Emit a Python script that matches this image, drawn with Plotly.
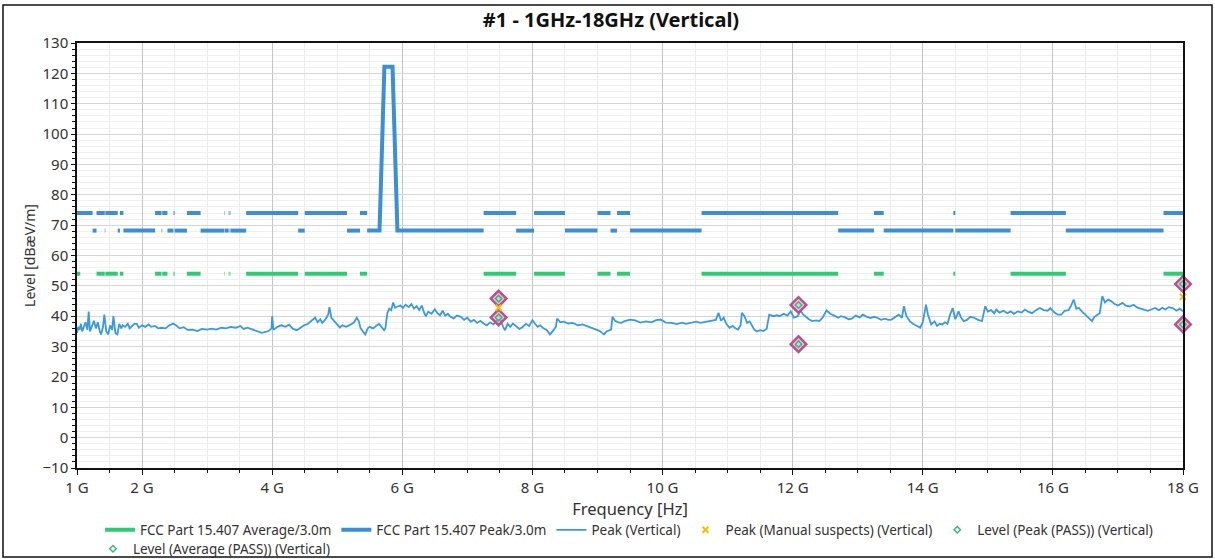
import plotly.graph_objects as go

TITLE = "#1 - 1GHz-18GHz (Vertical)"

# Restricted bands (GHz) where the 74 dBuV/m peak / 54 dBuV/m average limits apply
RESTRICTED_BANDS_GHZ = [
    (1.0, 1.24), (1.3, 1.427), (1.435, 1.626), (1.66, 1.71), (1.7188, 1.7222),
    (2.2, 2.3), (2.31, 2.39), (2.4835, 2.5), (2.69, 2.9), (3.26, 3.267),
    (3.332, 3.339), (3.3458, 3.358), (3.6, 4.4), (4.5, 5.15), (5.35, 5.46),
    (7.25, 7.75), (8.025, 8.5), (9.0, 9.2), (9.3, 9.5), (10.6, 12.7),
    (13.25, 13.4), (14.47, 14.5), (15.35, 16.2), (17.7, 18.0),
]
AVG_LIMIT_BANDS_GHZ = [(1.0, 1.05)] + RESTRICTED_BANDS_GHZ[1:]
PEAK_LIMIT_RESTRICTED = 74.0
PEAK_LIMIT_OTHER = 68.2
AVG_LIMIT = 54.0
BAND_EDGE_FREQ = [5.65, 5.725, 5.85, 5.925]
BAND_EDGE_LEVEL = [68.2, 122.2, 122.2, 68.2]

PEAK_FREQ = [
    1.00, 1.02, 1.04, 1.06, 1.08, 1.10, 1.13, 1.16, 1.18, 1.20, 1.23, 1.26, 1.29, 1.32, 1.35,
    1.37, 1.40, 1.42, 1.45, 1.48, 1.51, 1.54, 1.56, 1.59, 1.62, 1.65, 1.68, 1.70, 1.74, 1.78,
    1.81, 1.85, 1.88, 1.92, 1.95, 2.00, 2.05, 2.10, 2.14, 2.20, 2.25, 2.30, 2.36, 2.42, 2.48,
    2.52, 2.58, 2.64, 2.70, 2.78, 2.85, 2.92, 3.00, 3.07, 3.14, 3.22, 3.29, 3.36, 3.44, 3.51,
    3.56, 3.62, 3.67, 3.72, 3.78, 3.84, 3.90, 3.95, 3.99, 4.00, 4.02, 4.08, 4.14, 4.20, 4.26,
    4.32, 4.38, 4.44, 4.49, 4.55, 4.60, 4.66, 4.70, 4.74, 4.77, 4.82, 4.86, 4.88, 4.91, 4.95,
    5.00, 5.04, 5.08, 5.14, 5.21, 5.26, 5.30, 5.33, 5.36, 5.40, 5.43, 5.47, 5.50, 5.55, 5.60,
    5.64, 5.68, 5.72, 5.74, 5.77, 5.80, 5.83, 5.86, 5.89, 5.93, 5.97, 6.01, 6.05, 6.10, 6.14,
    6.18, 6.22, 6.26, 6.30, 6.33, 6.36, 6.40, 6.45, 6.50, 6.54, 6.58, 6.62, 6.66, 6.70, 6.74,
    6.79, 6.84, 6.90, 6.95, 7.00, 7.05, 7.10, 7.15, 7.20, 7.25, 7.30, 7.35, 7.40, 7.45, 7.51,
    7.55, 7.58, 7.62, 7.66, 7.70, 7.75, 7.80, 7.84, 7.90, 7.95, 8.00, 8.04, 8.08, 8.12, 8.17,
    8.22, 8.27, 8.31, 8.36, 8.38, 8.43, 8.48, 8.55, 8.62, 8.70, 8.77, 8.83, 8.88, 8.93, 8.98,
    9.03, 9.07, 9.10, 9.14, 9.18, 9.21, 9.23, 9.27, 9.32, 9.37, 9.42, 9.50, 9.58, 9.66, 9.75,
    9.83, 9.90, 9.97, 10.05, 10.14, 10.22, 10.30, 10.36, 10.45, 10.52, 10.58, 10.66, 10.75, 10.82, 10.86,
    10.90, 10.94, 10.98, 11.03, 11.08, 11.12, 11.16, 11.20, 11.22, 11.26, 11.30, 11.34, 11.38, 11.41, 11.45,
    11.50, 11.55, 11.60, 11.64, 11.70, 11.76, 11.80, 11.86, 11.92, 11.97, 12.02, 12.08, 12.12, 12.16, 12.19,
    12.25, 12.30, 12.36, 12.41, 12.46, 12.52, 12.58, 12.64, 12.70, 12.74, 12.80, 12.86, 12.91, 12.97, 13.03,
    13.08, 13.14, 13.20, 13.25, 13.30, 13.36, 13.42, 13.47, 13.52, 13.58, 13.63, 13.68, 13.71, 13.75, 13.80,
    13.85, 13.90, 13.96, 14.00, 14.05, 14.08, 14.13, 14.18, 14.22, 14.26, 14.30, 14.34, 14.38, 14.42, 14.46,
    14.50, 14.55, 14.59, 14.63, 14.68, 14.73, 14.79, 14.85, 14.91, 14.96, 15.00, 15.05, 15.10, 15.13, 15.18,
    15.24, 15.30, 15.35, 15.40, 15.46, 15.52, 15.57, 15.62, 15.68, 15.74, 15.80, 15.86, 15.92, 15.96, 16.02,
    16.08, 16.13, 16.18, 16.24, 16.28, 16.32, 16.36, 16.40, 16.45, 16.50, 16.55, 16.60, 16.64, 16.68, 16.72,
    16.76, 16.80, 16.85, 16.90, 16.95, 17.00, 17.07, 17.12, 17.18, 17.24, 17.30, 17.36, 17.40, 17.46, 17.52,
    17.57, 17.63, 17.68, 17.73, 17.78, 17.84, 17.90, 17.95, 18.00,
]
PEAK_LEVEL = [
    34.5, 36.5, 35.5, 37.5, 35.0, 36.0, 38.0, 35.5, 41.5, 35.0, 37.0, 38.5, 36.0, 38.0, 35.0,
    34.0, 36.5, 40.5, 35.0, 34.0, 37.0, 35.5, 40.0, 34.5, 34.0, 37.5, 36.0, 37.0, 36.5, 37.5,
    36.0, 36.8, 37.5, 37.5, 36.2, 37.0, 36.5, 37.3, 36.5, 36.8, 36.0, 36.2, 36.0, 37.0, 37.6,
    37.0, 36.0, 36.4, 35.5, 35.6, 35.1, 35.8, 35.6, 35.9, 35.6, 36.2, 36.0, 36.5, 36.2, 36.8,
    35.8, 36.2, 35.8, 35.3, 35.0, 34.5, 34.8, 35.2, 36.0, 40.0, 35.5, 36.5, 37.0, 36.5, 37.2,
    35.8, 35.4, 36.2, 37.0, 37.5, 38.5, 39.5, 38.0, 39.0, 37.8, 39.0, 40.5, 43.0, 39.5, 38.5,
    37.5, 36.3, 37.0, 36.5, 37.3, 38.0, 39.5, 38.5, 36.0, 35.0, 34.0, 36.0, 36.5, 36.0, 37.0,
    37.5, 36.5, 35.4, 36.0, 41.0, 42.5, 42.0, 44.5, 42.8, 43.2, 43.5, 42.7, 43.8, 43.0, 44.0,
    42.5, 43.3, 42.0, 43.5, 41.5, 40.0, 41.5, 40.8, 42.3, 41.0, 40.3, 41.8, 40.2, 40.8, 39.8,
    39.3, 40.2, 39.8, 38.8, 39.5, 38.2, 38.8, 37.8, 38.5, 37.6, 37.0, 38.0, 37.3, 38.5, 38.7,
    36.5, 35.4, 37.5, 36.5, 37.6, 36.8, 35.8, 36.3, 37.5, 36.8, 38.7, 37.5, 36.5, 37.0, 36.0,
    35.5, 34.0, 35.0, 36.5, 39.2, 38.0, 38.2, 37.6, 37.8, 37.0, 37.3, 36.8, 36.5, 36.0, 35.8,
    35.2, 34.5, 34.0, 35.0, 35.4, 35.6, 39.8, 38.5, 38.0, 37.8, 38.4, 38.9, 38.6, 37.9, 38.3,
    38.0, 38.7, 38.9, 37.9, 37.8, 37.4, 37.9, 37.5, 37.8, 38.2, 37.8, 38.2, 38.4, 38.8, 41.1,
    38.5, 39.5, 37.5, 36.2, 36.8, 36.0, 35.6, 37.0, 41.1, 40.0, 37.8, 38.3, 36.8, 35.6, 35.0,
    35.4, 35.1, 35.8, 40.5, 40.0, 40.3, 40.0, 40.8, 40.2, 41.6, 39.5, 40.0, 42.0, 40.6, 40.0,
    39.0, 38.4, 38.6, 38.4, 39.5, 41.9, 40.8, 40.2, 39.5, 40.0, 39.7, 39.0, 39.2, 40.2, 39.6,
    40.5, 39.8, 39.4, 39.8, 39.5, 38.8, 39.2, 38.8, 38.9, 39.7, 40.5, 39.5, 43.3, 40.0, 38.4,
    37.5, 37.0, 36.2, 38.0, 43.8, 40.5, 37.3, 38.3, 36.8, 37.5, 37.3, 38.0, 37.5, 40.5, 42.7,
    39.0, 41.6, 39.5, 38.4, 38.8, 39.8, 39.5, 38.8, 38.4, 43.3, 41.5, 42.0, 41.0, 42.2, 41.2,
    41.8, 41.0, 41.6, 40.8, 41.6, 41.2, 42.2, 41.5, 41.0, 42.0, 42.7, 42.0, 41.8, 42.7, 41.3,
    40.5, 40.5, 41.8, 42.0, 43.5, 45.5, 42.5, 42.7, 41.5, 40.5, 39.5, 38.4, 39.8, 40.5, 41.0,
    46.6, 44.5, 45.5, 44.9, 44.0, 43.5, 44.4, 43.5, 43.2, 43.8, 42.8, 42.5, 42.2, 41.8, 42.3,
    42.7, 42.0, 42.8, 42.2, 43.0, 42.7, 41.8, 42.5, 41.6,
]

SUSPECT_FREQ = [7.48, 18.0]
SUSPECT_LEVEL = [42.8, 46.4]
PASS_PEAK_FREQ = [7.48, 12.09, 18.0]
PASS_PEAK_LEVEL = [45.8, 43.7, 50.6]
PASS_AVG_FREQ = [7.48, 12.09, 18.0]
PASS_AVG_LEVEL = [39.6, 30.8, 37.3]

X_TICKS = [1, 2, 4, 6, 8, 10, 12, 14, 16, 18]
X_TICK_TEXT = ["1 G", "2 G", "4 G", "6 G", "8 G", "10 G", "12 G", "14 G", "16 G", "18 G"]
Y_TICKS = list(range(-10, 131, 10))

GREEN = "#2ecc71"
MARK_GREEN = "#3cb878"
BLUE = "#3a8fd6"
TRACE_BLUE = "#3a9ae0"
YELLOW = "#f2c200"
PINK = "#b8508f"
FONT = "Noto Sans"


def band_path(bands, level):
    xs, ys = [], []
    for a, b in bands:
        xs += [a, b, None]
        ys += [level, level, None]
    return xs, ys


# complement of restricted bands -> non-restricted segments at 68.2
other = []
start = 1.0
for a, b in sorted(RESTRICTED_BANDS_GHZ):
    if a > start:
        other.append((start, a))
    start = max(start, b)
if start < 18.0:
    other.append((start, 18.0))

pk_x, pk_y = band_path(RESTRICTED_BANDS_GHZ, PEAK_LIMIT_RESTRICTED)
for a, b in other:
    if a < BAND_EDGE_FREQ[0] < b:
        pk_x += [a] + BAND_EDGE_FREQ + [b, None]
        pk_y += [PEAK_LIMIT_OTHER] + BAND_EDGE_LEVEL + [PEAK_LIMIT_OTHER, None]
    else:
        pk_x += [a, b, None]
        pk_y += [PEAK_LIMIT_OTHER, PEAK_LIMIT_OTHER, None]

av_x, av_y = band_path(AVG_LIMIT_BANDS_GHZ, AVG_LIMIT)

fig = go.Figure()
fig.add_trace(go.Scatter(x=av_x, y=av_y, mode="lines", name="FCC Part 15.407 Average/3.0m",
                         line=dict(color=GREEN, width=4), connectgaps=False, legendrank=1))
fig.add_trace(go.Scatter(x=pk_x, y=pk_y, mode="lines", name="FCC Part 15.407 Peak/3.0m",
                         line=dict(color=BLUE, width=4), connectgaps=False, legendrank=2))
fig.add_trace(go.Scatter(x=PEAK_FREQ, y=PEAK_LEVEL, mode="lines", name="Peak (Vertical)",
                         line=dict(color=TRACE_BLUE, width=1.8), legendrank=3))
# highlight diamonds behind the result markers
fig.add_trace(go.Scatter(x=PASS_PEAK_FREQ + PASS_AVG_FREQ, y=PASS_PEAK_LEVEL + PASS_AVG_LEVEL,
                         mode="markers", showlegend=False, cliponaxis=False, hoverinfo="skip",
                         marker=dict(symbol="diamond", size=12, color="rgba(215,160,195,0.55)",
                                     line=dict(color=PINK, width=2.5))))
fig.add_trace(go.Scatter(x=SUSPECT_FREQ, y=SUSPECT_LEVEL, mode="markers",
                         name="Peak (Manual suspects) (Vertical)", cliponaxis=False,
                         marker=dict(symbol="x-thin-open", size=6, color=YELLOW,
                                     line=dict(color=YELLOW, width=2)),
                         legendrank=4))
fig.add_trace(go.Scatter(x=PASS_PEAK_FREQ, y=PASS_PEAK_LEVEL, mode="markers",
                         name="Level (Peak (PASS)) (Vertical)", cliponaxis=False,
                         marker=dict(symbol="diamond-open", size=5, color=MARK_GREEN,
                                     line=dict(color=MARK_GREEN, width=1.5)),
                         legendrank=5))
fig.add_trace(go.Scatter(x=PASS_AVG_FREQ, y=PASS_AVG_LEVEL, mode="markers",
                         name="Level (Average (PASS)) (Vertical)", cliponaxis=False,
                         marker=dict(symbol="diamond-open", size=5, color=MARK_GREEN,
                                     line=dict(color=MARK_GREEN, width=1.5)),
                         legend="legend2", legendrank=6))

minor_x = [1 + 0.5 * i for i in range(35)]
PW, PH, L0, T0 = 1106, 425, 77, 43

legend_common = dict(orientation="h", xanchor="left", yanchor="middle",
                     font=dict(family=FONT, size=13.5, color="#333333"), itemwidth=30,
                     bgcolor="rgba(0,0,0,0)", borderwidth=0)

fig.update_layout(
    width=1215, height=559,
    paper_bgcolor="white", plot_bgcolor="white",
    margin=dict(l=77, r=32, t=43, b=91, autoexpand=False),
    font=dict(family=FONT, size=13, color="#333333"),
    title=dict(text="<b>" + TITLE + "</b>", x=611 / 1215, xref="container", xanchor="center",
               y=1 - 20 / 559, yref="container", yanchor="middle",
               font=dict(family=FONT, size=20, color="#111111")),
    showlegend=True,
    legend=dict(x=(100 - L0) / PW, y=(T0 + PH - 530) / PH, **legend_common),
    legend2=dict(x=(93 - L0) / PW, y=(T0 + PH - 549) / PH, **legend_common),
    xaxis=dict(range=[1, 18], tickmode="array", tickvals=X_TICKS, ticktext=X_TICK_TEXT,
               showline=True, linecolor="#111111", linewidth=1.5, mirror=True,
               ticks="outside", ticklen=5, tickcolor="#111111",
               showgrid=True, gridcolor="#c4c4c4", gridwidth=1, zeroline=False,
               tickfont=dict(family=FONT, size=15, color="#333333"),
               minor=dict(tickmode="array", tickvals=minor_x, ticks="outside", ticklen=3,
                          tickcolor="#111111", showgrid=True, gridcolor="#ececec"),
               title=dict(text="Frequency [Hz]", standoff=2,
                          font=dict(family=FONT, size=16.5, color="#333333"))),
    yaxis=dict(range=[-10, 130], tickmode="array", tickvals=Y_TICKS,
               showline=True, linecolor="#111111", linewidth=1.5, mirror=True,
               ticks="outside", ticklen=4, tickcolor="#111111",
               showgrid=True, gridcolor="#d6d6d6", gridwidth=1, zeroline=False,
               tickfont=dict(family=FONT, size=15, color="#333333"),
               minor=dict(dtick=2, tick0=0, ticks="outside", ticklen=3, tickcolor="#111111",
                          showgrid=True, gridcolor="#f0f0f0"),
               title=dict(text="Level [dBæV/m]", standoff=4,
                          font=dict(family=FONT, size=14, color="#333333"))),
    shapes=[dict(type="rect", xref="paper", yref="paper",
                 x0=(3 - L0) / PW, x1=(1212 - L0) / PW,
                 y0=(T0 + PH - 557) / PH, y1=(T0 + PH - 5) / PH,
                 line=dict(color="#111111", width=1.5), fillcolor="rgba(0,0,0,0)", layer="above")],
)

fig.write_html("out.html", config={"displayModeBar": False},
               post_script="document.body.style.margin='0';")
